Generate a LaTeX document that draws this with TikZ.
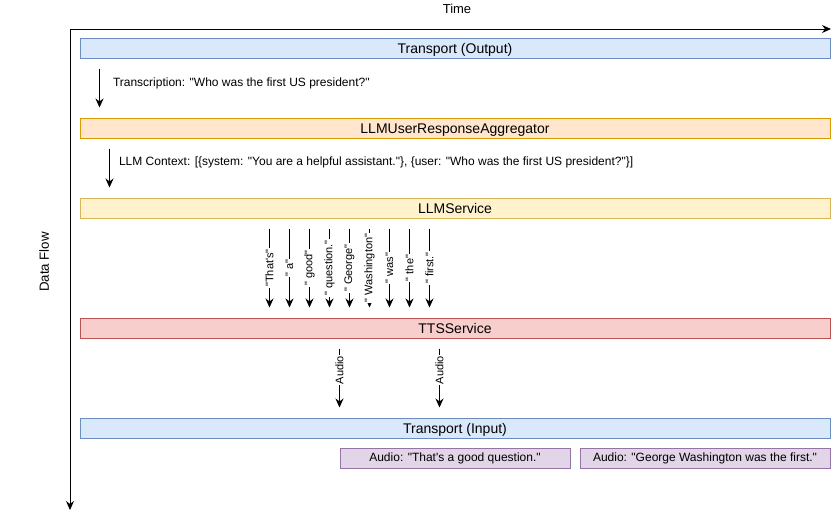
\documentclass[tikz,border=0pt]{standalone}
\usepackage{fontspec}
\setmainfont{Liberation Sans}[Ligatures=TeXOff]
\usetikzlibrary{arrows.meta}
\definecolor{trfill}{HTML}{DAE8FC}
\definecolor{trline}{HTML}{6C8EBF}
\definecolor{aggfill}{HTML}{FFE6CC}
\definecolor{aggline}{HTML}{D79B00}
\definecolor{llmfill}{HTML}{FFF2CC}
\definecolor{llmline}{HTML}{D6B656}
\definecolor{ttsfill}{HTML}{F8CECC}
\definecolor{ttsline}{HTML}{B85450}
\definecolor{audfill}{HTML}{E1D5E7}
\definecolor{audline}{HTML}{9673A6}
\tikzset{
	stage/.style={
		draw,
		line width=1pt,
		inner sep=0pt,
		minimum width=750pt,
		minimum height=20pt,
		text height=11pt,
		text depth=0pt,
		font=\fontsize{14}{16}\selectfont
	},
	transport/.style={stage,fill=trfill,draw=trline},
	aggregator/.style={stage,fill=aggfill,draw=aggline},
	llm/.style={stage,fill=llmfill,draw=llmline},
	tts/.style={stage,fill=ttsfill,draw=ttsline},
	audio/.style={
		draw=audline,
		fill=audfill,
		line width=1pt,
		inner sep=0pt,
		minimum height=20pt,
		text height=9pt,
		text depth=1.5pt,
		font=\fontsize{12}{14}\selectfont
	}
}

\begin{document}
\begin{tikzpicture}[x=1pt,y=-1pt,
	>={Stealth[length=9pt,width=8pt,inset=3pt]},
	axis/.style={<->,line width=1pt},
	flow/.style={->,line width=1pt,shorten <=10pt,shorten >=10pt},
	edgelabel/.style={anchor=west,inner sep=0pt,font=\fontsize{12}{14}\selectfont},
	token/.style={rotate=90,fill=white,inner sep=1pt,font=\fontsize{11}{13}\selectfont}]
	\useasboundingbox (0,0) rectangle (839,517);

	% axes
	\coordinate (origin) at (70,29);
	\coordinate (tend) at (831,29);
	\coordinate (fend) at (70,510);
	\draw[axis] (tend) -- (origin) -- (fend);
	\node[font=\fontsize{13}{15}\selectfont] (time) at (457,9) {Time};
	\node[rotate=90,font=\fontsize{13.3}{15}\selectfont] (dataflow) at (44,262) {Data Flow};

	% pipeline
	\node[transport] (out) at (455,48) {Transport (Output)};
	\node[aggregator] (agg) at (455,128) {LLMUserResponseAggregator};
	\node[llm] (llm) at (455,208) {LLMService};
	\node[tts] (tts) at (455,328) {TTSService};
	\node[transport] (in) at (455,428) {Transport (Input)};
	\node[audio,minimum width=230pt] (aud1) at (455,458) {Audio: "That's a good question."};
	\node[audio,minimum width=250pt] (aud2) at (705,458) {Audio: "George Washington was the first."};

	\draw[flow] ([xshift=20]out.south west) -- ([xshift=20]agg.north west)
		node[edgelabel,midway,xshift=13,yshift=5]{Transcription: "Who was the first US president?"};
	\draw[flow] ([xshift=30]agg.south west) -- ([xshift=30]llm.north west)
		node[edgelabel,midway,xshift=9,yshift=6]{LLM Context: [\{system: "You are a helpful assistant."\}, \{user: "Who was the first US president?"\}]};

	% tokens
	\foreach \x/\w in {190/{"That's"},210/{" a"},230/{" good"},250/{" question."},270/{" George"},290/{" Washington"},310/{" was"},330/{" the"},350/{" first."}}
		\draw[flow] ([xshift=\x]llm.south west) -- ([xshift=\x]tts.north west) node[token,midway]{\w};

	% audio
	\foreach \x in {260,360}
		\draw[flow] ([xshift=\x]tts.south west) -- ([xshift=\x]in.north west) node[token,pos=0.4]{Audio};

\end{tikzpicture}
\end{document}
